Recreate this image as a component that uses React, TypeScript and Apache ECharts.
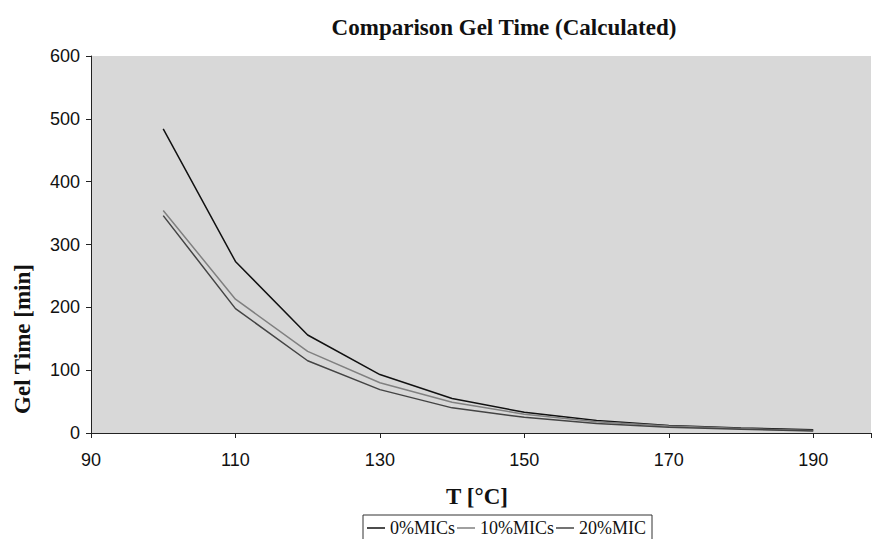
import React, { useEffect, useRef } from "react";
import * as echarts from "echarts";

const temps = [100, 110, 120, 130, 140, 150, 160, 170, 180, 190];
const mic0 = [484, 273, 156, 93, 55, 33, 20, 12, 8, 5];
const mic10 = [354, 213, 130, 80, 49, 30, 18, 11, 7, 4];
const mic20 = [346, 198, 115, 69, 40, 25, 15, 9, 6, 3];
const seriesNames = ["0%MICs", "10%MICs", "20%MIC"];
const xTicks = { min: 90, max: 198, interval: 20 };
const yTicks = { min: 0, max: 600, interval: 100 };

const serif = "'Liberation Serif', 'Times New Roman', serif";
const sans = "'Liberation Sans', Arial, sans-serif";

export default function App() {
  const ref = useRef<HTMLDivElement>(null);
  useEffect(() => {
    if (!ref.current) return;
    const chart = echarts.init(ref.current, undefined, { renderer: "svg" });
    const pairs = (ys: number[]) => temps.map((t, i) => [t, ys[i]]);
    const colors = ["#111111", "#808080", "#444444"];
    const datas = [mic0, mic10, mic20];
    chart.setOption({
      animation: false,
      backgroundColor: "#ffffff",
      title: {
        text: "Comparison Gel Time (Calculated)",
        left: 499,
        textAlign: "center",
        top: 11,
        textStyle: { fontFamily: serif, fontWeight: "bold", fontSize: 23, color: "#111" },
      },
      legend: {
        left: 363,
        top: 515,
        orient: "horizontal",
        borderColor: "#333",
        borderWidth: 1,
        borderRadius: 0,
        padding: [4, 6, 6, 4],
        itemGap: 2,
        itemWidth: 18,
        itemHeight: 1.5,
        icon: "rect",
        data: seriesNames.map((n, i) => ({ name: n, itemStyle: { color: colors[i] } })),
        textStyle: { fontFamily: serif, fontSize: 18, color: "#111", lineHeight: 18 },
      },
      graphic: [
        {
          type: "text",
          x: 22,
          y: 339,
          rotation: Math.PI / 2,
          style: {
            text: "Gel Time [min]",
            fontFamily: serif,
            fontWeight: "bold",
            fontSize: 23,
            fill: "#111",
            align: "center",
            verticalAlign: "middle",
          },
        },
        {
          type: "text",
          x: 477,
          y: 496,
          style: {
            text: "T [°C]",
            fontFamily: serif,
            fontWeight: "bold",
            fontSize: 23,
            fill: "#111",
            align: "center",
            verticalAlign: "middle",
          },
        },
      ],
      grid: {
        left: 91,
        right: 1,
        top: 56,
        bottom: 106,
        show: true,
        backgroundColor: "#d8d8d8",
        borderWidth: 0,
        containLabel: false,
      },
      xAxis: {
        type: "value",
        min: xTicks.min,
        max: xTicks.max,
        interval: xTicks.interval,
        axisLine: { show: true, lineStyle: { color: "#222", width: 1 } },
        axisTick: { show: true, length: 5, lineStyle: { color: "#222" } },
        splitLine: { show: false },
        axisLabel: {
          fontFamily: sans,
          fontSize: 18,
          color: "#111",
          margin: 18,
          formatter: (v: number) => (v > 190 ? "" : String(v)),
        },
      },
      yAxis: {
        type: "value",
        min: yTicks.min,
        max: yTicks.max,
        interval: yTicks.interval,
        axisLine: { show: true, lineStyle: { color: "#222", width: 1 } },
        axisTick: { show: true, length: 5, lineStyle: { color: "#222" } },
        splitLine: { show: false },
        axisLabel: { fontFamily: sans, fontSize: 18, color: "#111", margin: 11 },
      },
      series: datas.map((d, i) => ({
        name: seriesNames[i],
        type: "line",
        data: pairs(d),
        showSymbol: false,
        symbol: "none",
        lineStyle: { color: colors[i], width: 1.5 },
        itemStyle: { color: colors[i] },
      })),
    });
    return () => chart.dispose();
  }, []);
  return (
    <div
      ref={ref}
      style={{ position: "fixed", left: 0, top: 0, width: 874, height: 539 }}
    />
  );
}
